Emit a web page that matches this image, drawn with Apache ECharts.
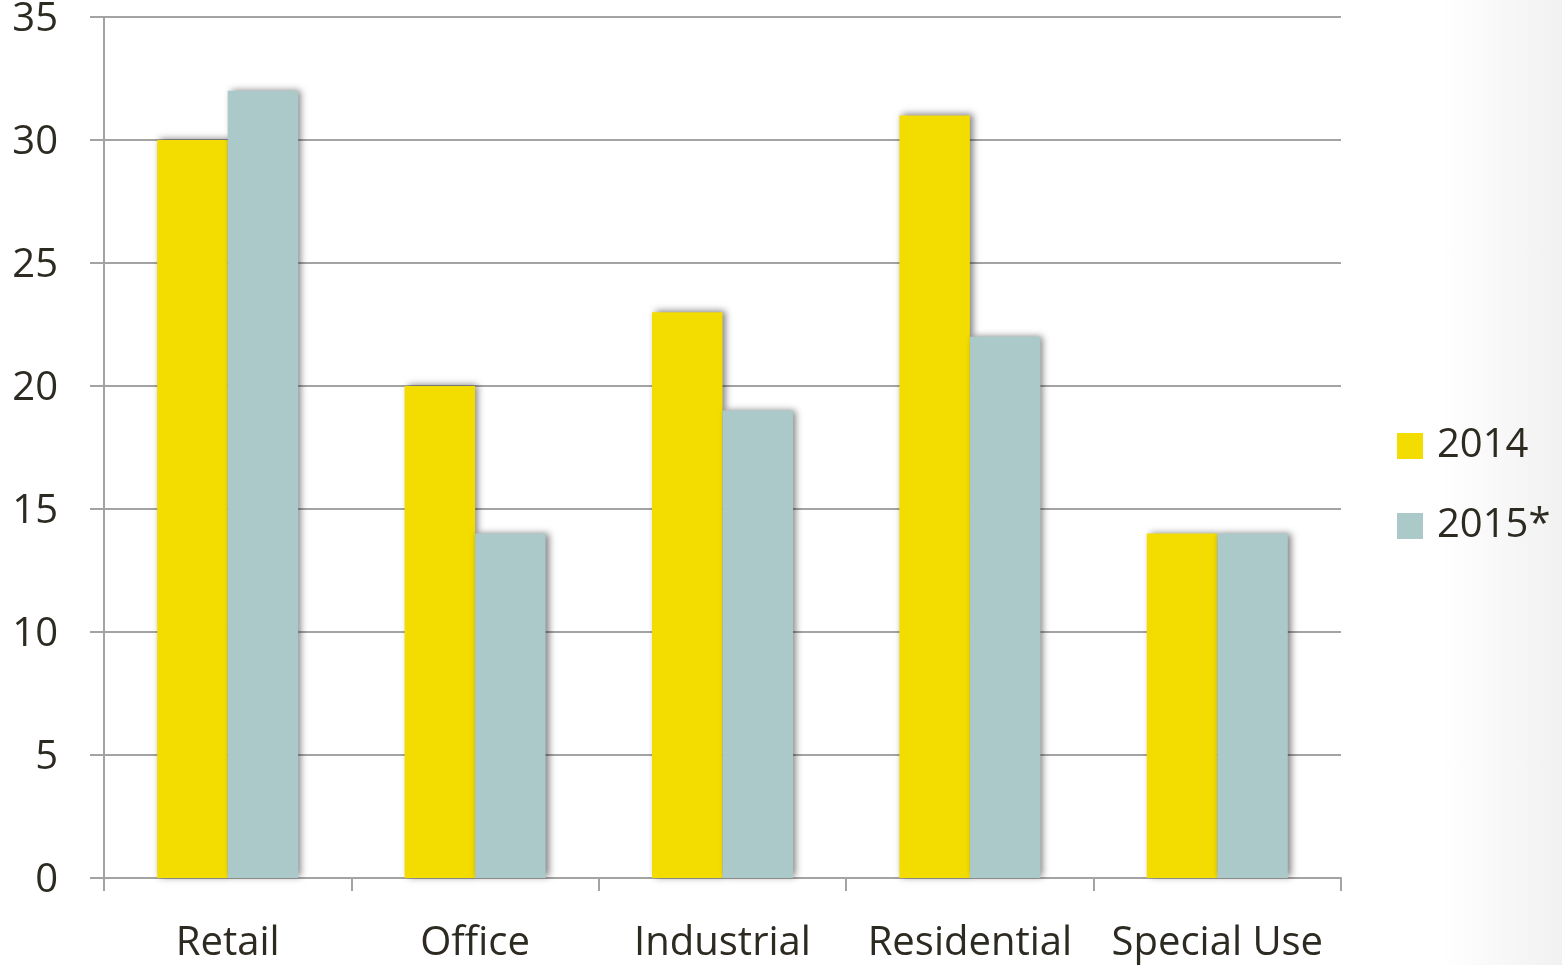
<!DOCTYPE html>
<html>
<head>
<meta charset="utf-8">
<script src="https://cdn.jsdelivr.net/npm/echarts@6/dist/echarts.min.js"></script>
<style>
html,body{margin:0;padding:0;width:1562px;height:965px;overflow:hidden;
background:linear-gradient(to right,#ffffff 0px,#ffffff 1440px,#f1f1f1 1562px);}
#c{width:1562px;height:965px;}
</style>
</head>
<body>
<div id="c"></div>
<script>
const categories = ['Retail', 'Office', 'Industrial', 'Residential', 'Special Use'];
const series2014 = [30, 20, 23, 31, 14];
const series2015 = [32, 14, 19, 22, 14];
const seriesNames = ['2014', '2015*'];
const yTicks = { min: 0, max: 35, interval: 5 };

const chart = echarts.init(document.getElementById('c'), null, { renderer: 'canvas' });
const font = '"Open Sans", Lato, sans-serif';
const textColor = '#2d2a22';
const gridColor = '#a3a3a3';
const barShadow = { shadowColor: 'rgba(0,0,0,0.5)', shadowBlur: 7, shadowOffsetX: 3, shadowOffsetY: -1 };

chart.setOption({
  backgroundColor: 'transparent',
  animation: false,
  grid: { left: 104, right: 221, top: 17, bottom: 87, containLabel: false, outerBoundsMode: 'none' },
  legend: {
    orient: 'vertical',
    left: 1397,
    top: 426,
    padding: 0,
    itemWidth: 26,
    itemHeight: 26,
    itemGap: 40,
    icon: 'rect',
    textStyle: { fontFamily: font, fontSize: 40, color: textColor, lineHeight: 40, padding: [0, 0, 0, 9] },
    data: seriesNames
  },
  xAxis: {
    type: 'category',
    data: categories,
    axisLine: { lineStyle: { color: gridColor, width: 2 } },
    axisTick: { show: true, length: 13, lineStyle: { color: gridColor, width: 2 } },
    axisLabel: { fontFamily: font, fontSize: 40, color: textColor, margin: 46, interval: 0 }
  },
  yAxis: {
    type: 'value',
    min: yTicks.min, max: yTicks.max, interval: yTicks.interval,
    axisLine: { show: true, lineStyle: { color: gridColor, width: 2 } },
    axisTick: { show: true, length: 14, lineStyle: { color: gridColor, width: 2 } },
    splitLine: { show: true, lineStyle: { color: gridColor, width: 2 } },
    axisLabel: { fontFamily: font, fontSize: 40, color: textColor, margin: 46, verticalAlign: 'top', lineHeight: 6 }
  },
  series: [
    {
      name: seriesNames[0], type: 'bar', data: series2014,
      barGap: '0%', barCategoryGap: '43%',
      itemStyle: Object.assign({ color: '#f3dd00' }, barShadow)
    },
    {
      name: seriesNames[1], type: 'bar', data: series2015,
      barGap: '0%', barCategoryGap: '43%',
      itemStyle: Object.assign({ color: '#abc9c9' }, barShadow)
    }
  ]
});
</script>
</body>
</html>
